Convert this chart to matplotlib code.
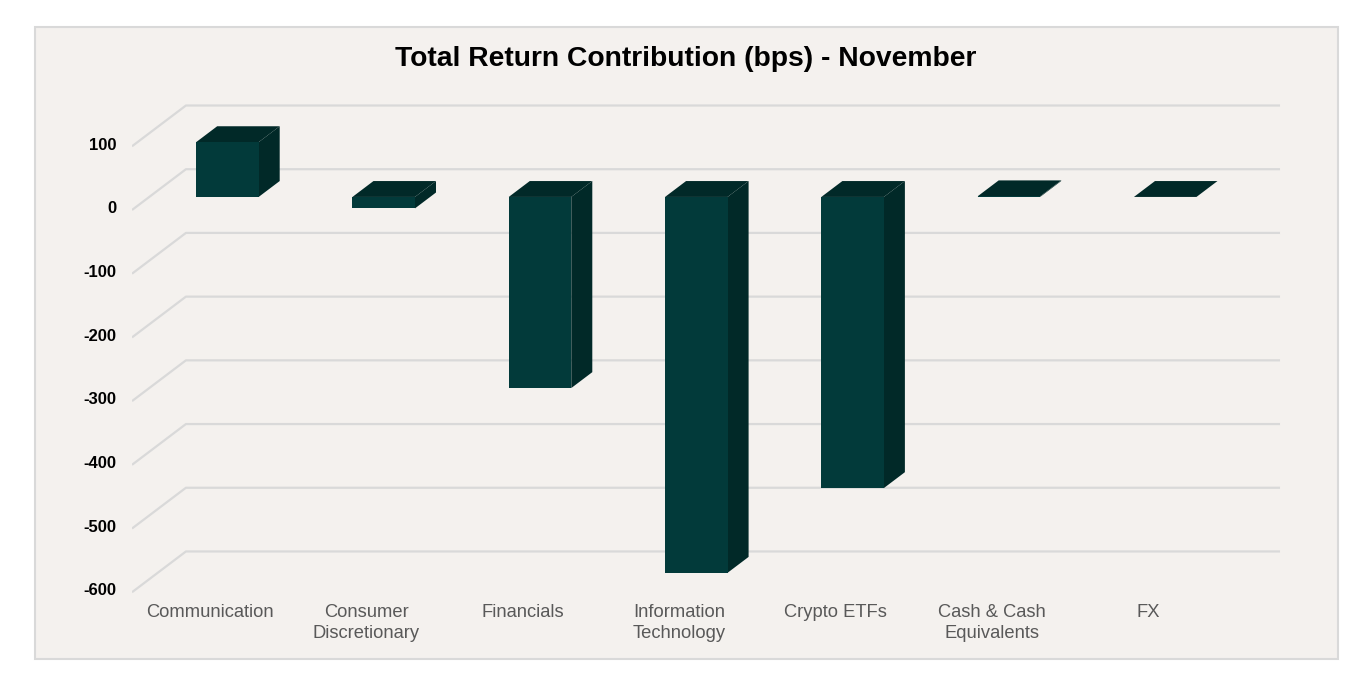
import matplotlib.pyplot as plt
from matplotlib.patches import Polygon, Rectangle
import numpy as np

#%% Data
categories = ["Communication", "Consumer\nDiscretionary", "Financials",
              "Information\nTechnology", "Crypto ETFs", "Cash & Cash\nEquivalents", "FX"]
contribution_bps = [86, -18, -300, -590, -457, 1, 0]
y_ticks = [100, 0, -100, -200, -300, -400, -500, -600]

#%% Style / 3D look
bg = "#F4F1EE"
front_col = "#023A3A"
dark_col = "#012928"
grid_col = "#D9D9D9"

# oblique offset for the full floor depth, in data units
depth_dx = 0.345
depth_dy = 64.0
# bar occupies this slice of the depth
d1, d2 = 0.32, 0.71
bar_w = 0.40

plt.rcParams["font.family"] = ["Liberation Sans", "DejaVu Sans"]

fig = plt.figure(figsize=(13.57, 6.79), dpi=100)
fig.patch.set_facecolor("white")
fig.patches.append(Rectangle((35 / 1357, 1 - 659 / 679), 1303 / 1357, 632 / 679,
                             transform=fig.transFigure, facecolor=bg,
                             edgecolor=grid_col, linewidth=1.5, zorder=-5))

ax = fig.add_axes([132 / 1357, 79 / 679, 1158 / 1357, 505 / 679])
ax.set_zorder(2)
ax.set_xlim(-0.5, -0.5 + 1158 / 156.3)
ax.set_ylim(-612.2, 180.5)
ax.axis("off")
ax.patch.set_alpha(0)

#%% Gridlines on the back wall plus the floor diagonal
n = len(categories)
for v in y_ticks:
    ax.plot([-0.5, -0.5 + depth_dx, n - 0.5 + depth_dx],
            [v, v + depth_dy, v + depth_dy],
            color=grid_col, linewidth=1.6, zorder=1, solid_capstyle="butt")
    ax.text(-0.6, v + 2, f"{v}", ha="right", va="center",
            fontsize=12, fontweight="bold", color="black", clip_on=False)

#%% Bars
for i, v in enumerate(contribution_bps):
    top = max(v, 0)
    bot = min(v, 0)
    x0 = i - bar_w / 2 + depth_dx * d1
    x1 = i + bar_w / 2 + depth_dx * d1
    y_off1 = depth_dy * d1
    bx = depth_dx * (d2 - d1)
    by = depth_dy * (d2 - d1)

    front = Polygon([(x0, bot + y_off1), (x1, bot + y_off1),
                     (x1, top + y_off1), (x0, top + y_off1)],
                    closed=True, facecolor=front_col, edgecolor="none", zorder=3)
    side = Polygon([(x1, bot + y_off1), (x1 + bx, bot + y_off1 + by),
                    (x1 + bx, top + y_off1 + by), (x1, top + y_off1)],
                   closed=True, facecolor=dark_col, edgecolor="none", zorder=3)
    lid = Polygon([(x0, top + y_off1), (x1, top + y_off1),
                   (x1 + bx, top + y_off1 + by), (x0 + bx, top + y_off1 + by)],
                  closed=True, facecolor=dark_col, edgecolor="none", zorder=3)
    for p in (side, lid, front):
        ax.add_patch(p)

#%% Category labels
for i, name in enumerate(categories):
    ax.text(i, -618, name, ha="center", va="top", fontsize=13.2,
            color="#595959", linespacing=1.3, clip_on=False)

fig.text(0.5055, 1 - 59 / 679, "Total Return Contribution (bps) - November",
         ha="center", va="center", fontsize=20.3, fontweight="bold", color="black")

fig.savefig("out.png", dpi=100, facecolor=fig.get_facecolor())
